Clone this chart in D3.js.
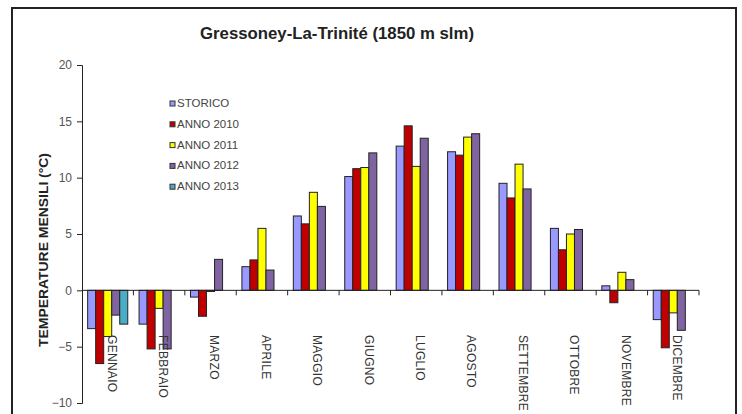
<!DOCTYPE html>
<html>
<head>
<meta charset="utf-8">
<script src="https://cdn.jsdelivr.net/npm/d3@7/dist/d3.min.js"></script>
<style>
  html, body { margin: 0; padding: 0; background: #fff; }
  svg { display: block; font-family: "Liberation Sans", Arial, sans-serif; }
</style>
</head>
<body>
<svg id="chart" width="742" height="414"></svg>
<script>
// Monthly mean temperatures (°C)
const months = ["GENNAIO", "FEBBRAIO", "MARZO", "APRILE", "MAGGIO", "GIUGNO",
                "LUGLIO", "AGOSTO", "SETTEMBRE", "OTTOBRE", "NOVEMBRE", "DICEMBRE"];
const seriesNames = ["STORICO", "ANNO 2010", "ANNO 2011", "ANNO 2012", "ANNO 2013"];
const storico  = [-3.4, -3.0, -0.6, 2.1, 6.6, 10.1, 12.8, 12.3, 9.5, 5.5, 0.4, -2.6];
const anno2010 = [-6.5, -5.2, -2.3, 2.7, 5.9, 10.8, 14.6, 12.0, 8.2, 3.6, -1.1, -5.1];
const anno2011 = [-4.1, -1.6, -0.1, 5.5, 8.7, 10.9, 11.0, 13.6, 11.2, 5.0, 1.6, -2.0];
const anno2012 = [-2.2, -5.2, 2.75, 1.8, 7.45, 12.2, 13.5, 13.9, 9.0, 5.4, 0.95, -3.55];
const anno2013 = [-3.0, null, null, null, null, null, null, null, null, null, null, null];
const yTicks = [-10, -5, 0, 5, 10, 15, 20];
const colors = ["#9999ff", "#c00000", "#ffff00", "#8064a2", "#4bacc6"];

const allSeries = [storico, anno2010, anno2011, anno2012, anno2013];

const svg = d3.select("#chart");
const plot = { left: 82, right: 699, top: 65, bottom: 403 };

// Outer chart frame
svg.append("rect")
  .attr("x", 12).attr("y", 8).attr("width", 724).attr("height", 420)
  .attr("fill", "none").attr("stroke", "#222").attr("stroke-width", 2);

const y = d3.scaleLinear().domain([-10, 20]).range([plot.bottom, plot.top]);
const x0 = d3.scaleBand().domain(months).range([plot.left, plot.right])
  .paddingInner(0.22).paddingOuter(0.11);
const x1 = d3.scaleBand().domain(seriesNames).range([0, x0.bandwidth()]);

// Bars
const g = svg.append("g");
months.forEach((m, i) => {
  allSeries.forEach((vals, s) => {
    const v = vals[i];
    if (v === null) return;
    g.append("rect")
      .attr("x", x0(m) + x1(seriesNames[s]))
      .attr("width", x1.bandwidth())
      .attr("y", y(Math.max(0, v)))
      .attr("height", Math.abs(y(v) - y(0)))
      .attr("fill", colors[s])
      .attr("stroke", "#222")
      .attr("stroke-width", 1);
  });
});

// Y axis
const yAxis = svg.append("g")
  .attr("transform", `translate(${plot.left},0)`)
  .call(d3.axisLeft(y).tickValues(yTicks).tickSize(5).tickPadding(5).tickFormat(d3.format("d")));
yAxis.select(".domain").attr("stroke", "#222");
yAxis.selectAll(".tick line").attr("stroke", "#222");
yAxis.selectAll(".tick text").attr("fill", "#555").style("font-size", "12px")
  .style("font-family", "Liberation Sans, Arial, sans-serif");

// X axis along zero, ticks at month boundaries
const step = x0.step();
const boundaries = d3.range(0, months.length + 1).map(k => plot.left + k * step);
svg.append("line")
  .attr("x1", plot.left).attr("x2", plot.right)
  .attr("y1", y(0)).attr("y2", y(0))
  .attr("stroke", "#222").attr("stroke-width", 1);
svg.selectAll(".xtick").data(boundaries.slice(1)).enter().append("line")
  .attr("x1", d => d).attr("x2", d => d)
  .attr("y1", y(0)).attr("y2", y(0) + 5)
  .attr("stroke", "#222");

// Month labels, rotated
svg.selectAll(".mlabel").data(months).enter().append("text")
  .attr("transform", d => `translate(${x0(d) + x0.bandwidth() / 2 + 3},335) rotate(90)`)
  .attr("dominant-baseline", "middle")
  .attr("fill", "#333")
  .style("font-size", "12px")
  .attr("letter-spacing", "0.3")
  .text(d => d);

// Title
svg.append("text")
  .attr("x", 337).attr("y", 39)
  .attr("text-anchor", "middle")
  .attr("textLength", 274).attr("lengthAdjust", "spacingAndGlyphs")
  .style("font-size", "17px").style("font-weight", "bold")
  .attr("fill", "#222")
  .text("Gressoney-La-Trinité (1850 m slm)");

// Y axis title
svg.append("text")
  .attr("transform", "translate(48,250) rotate(-90)")
  .attr("text-anchor", "middle")
  .attr("textLength", 194).attr("lengthAdjust", "spacingAndGlyphs")
  .style("font-size", "12.5px").style("font-weight", "bold")
  .attr("fill", "#222")
  .text("TEMPERATURE  MENSILI (°C)");

// Legend
const legend = svg.append("g");
seriesNames.forEach((name, s) => {
  const ly = 104 + s * 20.8;
  legend.append("rect")
    .attr("x", 170).attr("y", ly - 3).attr("width", 5).attr("height", 5)
    .attr("fill", colors[s]).attr("stroke", "#333").attr("stroke-width", 1);
  legend.append("text")
    .attr("x", 177).attr("y", ly)
    .attr("dominant-baseline", "middle")
    .attr("fill", "#444")
    .style("font-size", "11.5px")
    .text(name);
});
</script>
</body>
</html>
